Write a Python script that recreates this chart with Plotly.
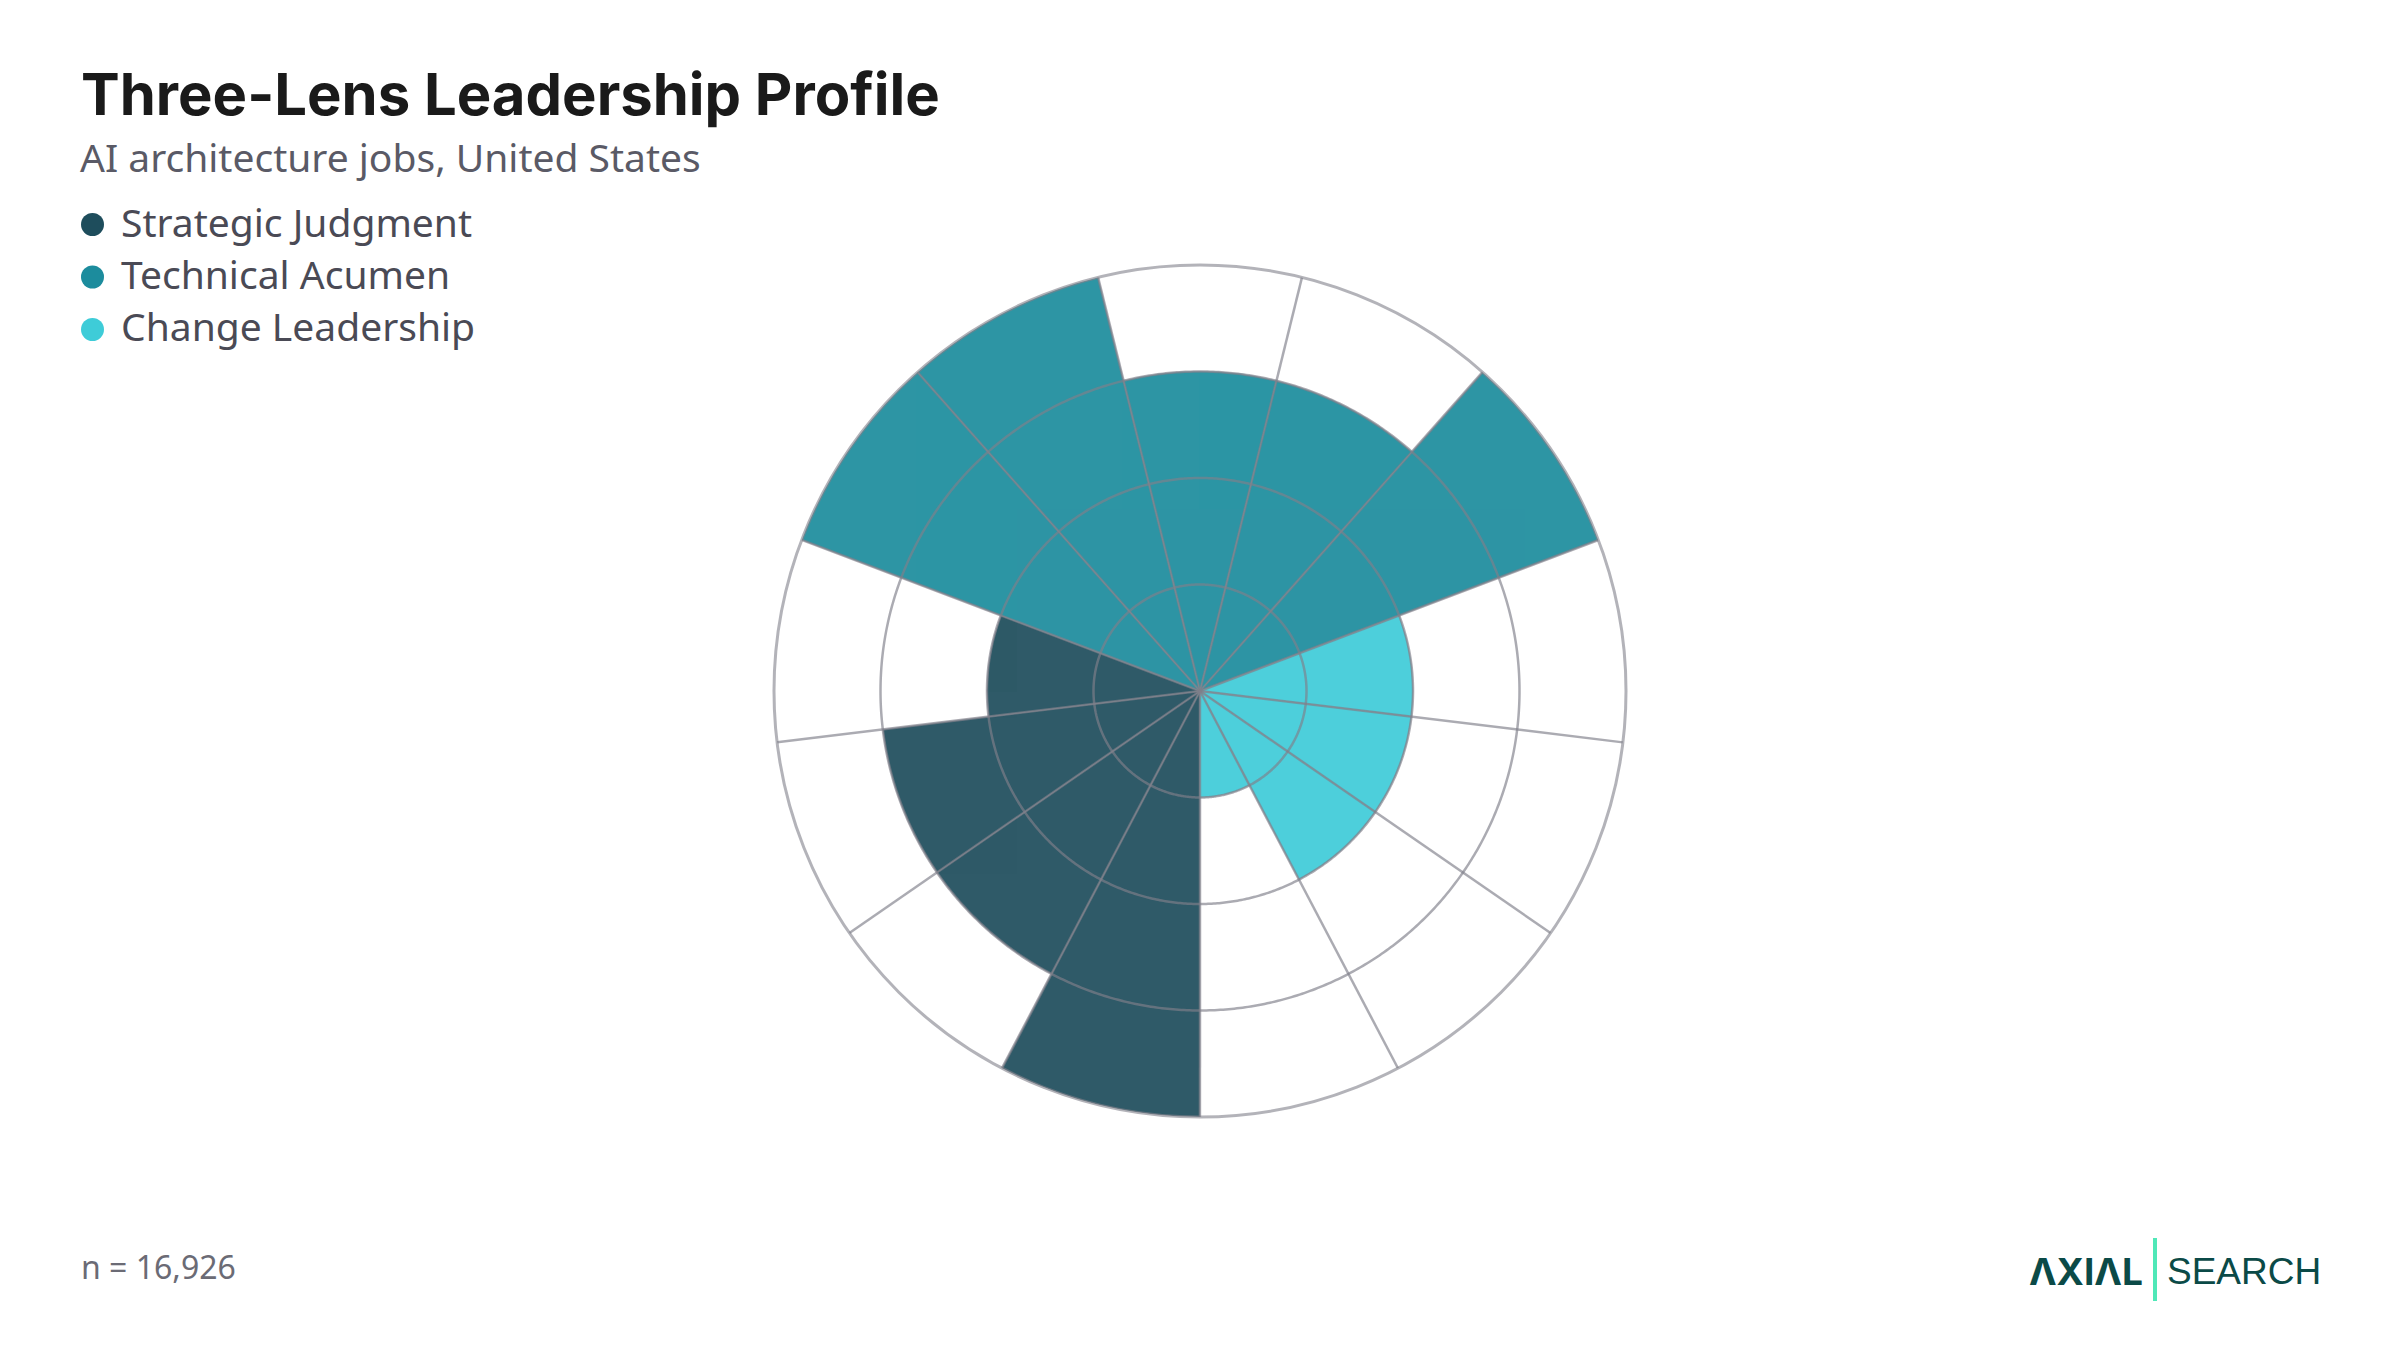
import numpy as np
import plotly.graph_objects as go

# three lenses and their colours
lenses = ["Strategic Judgment", "Technical Acumen", "Change Leadership"]
lens_colors = ["#1E4D5C", "#1C8C9D", "#3ECCD8"]

# scores per competency (0-4), read clockwise from just left of the bottom
strategic_scores = [4, 3, 3, 2]
technical_scores = [4, 4, 3, 3, 4]
change_scores = [2, 2, 2, 1]

rings = [1, 2, 3]
r_max = 4

title = "Three-Lens Leadership Profile"
subtitle = "AI architecture jobs, United States"
sample_size = 16926

# page has an 8px body margin, so the figure is a bit smaller than the window
M = 8
W, H = 2400 - 2 * M, 1350 - 2 * M


def px(x):
    return (x - M) / W


def py(y):
    return 1 - (y - M) / H


all_scores = [strategic_scores, technical_scores, change_scores]
n_items = sum(len(s) for s in all_scores)
step = 360 / n_items
edges = [(i + 0.5) * step for i in range(n_items)]

fig = go.Figure()

start = 0
for name, color, scores in zip(lenses, lens_colors, all_scores):
    thetas = [(start + i) * step for i in range(len(scores))]
    start += len(scores)
    fig.add_trace(go.Barpolar(
        r=scores,
        theta=thetas,
        width=[step] * len(scores),
        name=name,
        marker=dict(color=color, opacity=0.92,
                    line=dict(color="rgba(140,140,148,0.6)", width=1)),
        showlegend=False,
        hoverinfo="skip",
    ))

# grid drawn on top of the bars (polar grid sits under traces)
grid = "rgba(128,128,138,0.66)"
circle = np.linspace(0, 360, 721)
ring_r, ring_t = [], []
for rv in rings:
    ring_r += [rv] * len(circle) + [None]
    ring_t += list(circle) + [None]
spoke_r, spoke_t = [], []
for e in edges:
    spoke_r += [0, r_max, None]
    spoke_t += [e, e, None]
for rr, tt in [(ring_r, ring_t), (spoke_r, spoke_t)]:
    fig.add_trace(go.Scatterpolar(r=rr, theta=tt, mode="lines", connectgaps=False,
                                  line=dict(color=grid, width=2.5),
                                  showlegend=False, hoverinfo="skip"))

fig.update_layout(
    width=W, height=H,
    margin=dict(l=0, r=0, t=0, b=0),
    paper_bgcolor="white",
    plot_bgcolor="white",
    bargap=0,
    polar=dict(
        domain=dict(x=[px(774), px(1626)], y=[py(1117), py(265)]),
        bgcolor="white",
        radialaxis=dict(range=[0, r_max], showgrid=False, showticklabels=False,
                        ticks="", showline=False),
        angularaxis=dict(type="linear", rotation=256.15, direction="clockwise",
                         showgrid=False, showticklabels=False, ticks="",
                         showline=True, linecolor="rgba(128,128,138,0.6)", linewidth=3),
    ),
)

annotations = [
    dict(text=title, x=px(79), y=py(94), xanchor="left", yanchor="middle",
         font=dict(family="Inter", size=58, color="#1A1A1A", weight=700)),
    dict(text=subtitle, x=px(78), y=py(156), xanchor="left", yanchor="middle",
         font=dict(family="Noto Sans", size=39, color="#5A5A66")),
    dict(text="n = " + f"{sample_size:,}", x=px(79), y=py(1266), xanchor="left", yanchor="middle",
         font=dict(family="Noto Sans", size=32, color="#6B6B75")),
    dict(text="ΛXIΛL", x=px(2145), y=py(1271), xanchor="right", yanchor="middle",
         font=dict(family="Inter", size=37, color="#0B4A47", weight=700)),
    dict(text="SEARCH", x=px(2165), y=py(1271), xanchor="left", yanchor="middle",
         font=dict(family="Liberation Sans", size=37, color="#0B4A47")),
]

shapes = [
    dict(type="line", xref="paper", yref="paper", x0=px(2155), x1=px(2155),
         y0=py(1238), y1=py(1301), line=dict(color="#50E8B8", width=4)),
]

# legend drawn as circles + labels
for k, (name, color) in enumerate(zip(lenses, lens_colors)):
    cy = 224.5 + k * 52.5
    shapes.append(dict(type="circle", xref="paper", yref="paper",
                       x0=px(81), x1=px(104), y0=py(cy + 11.5), y1=py(cy - 11.5),
                       fillcolor=color, line=dict(width=0)))
    annotations.append(dict(text=name, x=px(119), y=py(cy - 3.5), xanchor="left", yanchor="middle",
                            font=dict(family="Noto Sans", size=39, color="#4A4A55")))

for a in annotations:
    a.update(xref="paper", yref="paper", showarrow=False)

fig.update_layout(annotations=annotations, shapes=shapes)

fig.write_html("out.html")
